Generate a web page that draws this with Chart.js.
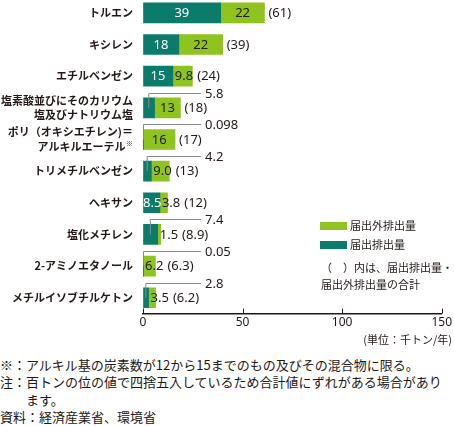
<!DOCTYPE html>
<html lang="ja">
<head>
<meta charset="utf-8">
<script src="https://cdn.jsdelivr.net/npm/chart.js@4/dist/chart.umd.min.js"></script>
<style>
    html, body { margin: 0; padding: 0; background: #fff; }
    body { width: 454px; height: 426px; position: relative; overflow: hidden;
           font-family: "Noto Sans CJK JP", sans-serif; color: #231815; }
    #chartWrap { position: absolute; left: 0; top: -3px; width: 454px; height: 335px; }
    .legend-item { position: absolute; left: 320px; font-size: 11px; line-height: 14px; }
    .legend-item span { display: inline-block; width: 27px; height: 8px; vertical-align: middle;
                        margin-right: 3px; position: relative; top: -1px; }
    .note { position: absolute; left: 321px; font-size: 11px; line-height: 17px; }
    #unit { position: absolute; right: 2px; top: 331px; font-size: 11px; }
    #footnotes { position: absolute; left: 0; top: 356px; font-size: 13px; line-height: 17.3px; }
    #footnotes .indent { padding-left: 26px; }
</style>
</head>
<body>
<div id="chartWrap"><canvas id="prtrChart" width="454" height="335"></canvas></div>
<div id="legend"></div>
<div class="note" style="top:259px">（　）内は、届出排出量・<br>届出外排出量の合計</div>
<div id="unit">(単位：千トン/年)</div>
<div id="footnotes">
    <div>※：アルキル基の炭素数が12から15までのもの及びその混合物に限る。</div>
    <div>注：百トンの位の値で四捨五入しているため合計値にずれがある場合があり</div>
    <div class="indent">ます。</div>
    <div>資料：経済産業省、環境省</div>
</div>
<script>
const categories = [
    ['トルエン'],
    ['キシレン'],
    ['エチルベンゼン'],
    ['塩素酸並びにそのカリウム', '塩及びナトリウム塩'],
    ['ポリ（オキシエチレン)＝', 'アルキルエーテル※'],
    ['トリメチルベンゼン'],
    ['ヘキサン'],
    ['塩化メチレン'],
    ['2-アミノエタノール'],
    ['メチルイソブチルケトン']
];
const reported = [39, 18, 15, 5.8, 0.098, 4.2, 8.5, 7.4, 0.05, 2.8];
const unreported = [22, 22, 9.8, 13, 16, 9.0, 3.8, 1.5, 6.2, 3.5];
const totals = [61, 39, 24, 18, 17, 13, 12, 8.9, 6.3, 6.2];
const seriesNames = ['届出排出量', '届出外排出量'];
const xTicks = [0, 50, 100, 150];

const DARK = '#0b7b6c';
const LIGHT = '#8fc31f';
const TEXT = '#231815';
const BAR_THICKNESS = 20;

function fmt(v) {
    if (v >= 10) return String(Math.round(v));
    if (v >= 1) return v.toFixed(1);
    return String(v);
}

const barLabels = {
    id: 'barLabels',
    afterDatasetsDraw(chart) {
        const { ctx, scales: { x, y } } = chart;
        const half = BAR_THICKNESS / 2;
        ctx.save();
        ctx.font = '13px "Noto Sans", sans-serif';
        ctx.textBaseline = 'middle';
        categories.forEach((cat, i) => {
            const yc = y.getPixelForValue(i);
            const x0 = x.getPixelForValue(0);
            const xd = x.getPixelForValue(reported[i]);
            const xt = x.getPixelForValue(reported[i] + unreported[i]);

            // reported value: inside the dark segment, or on a leader line
            const dText = fmt(reported[i]);
            const dw = ctx.measureText(dText).width;
            if (dw - 3 <= xd - x0) {
                ctx.fillStyle = '#fff';
                ctx.textAlign = 'center';
                ctx.fillText(dText, Math.max((x0 + xd) / 2, x0 + dw / 2), yc + 0.5);
            } else {
                const xl = Math.max((x0 + xd) / 2, x0 + 0.5);
                const yl = Math.round(yc - half - 5) + 0.5;
                ctx.strokeStyle = '#8a8a8a';
                ctx.lineWidth = 1;
                ctx.beginPath();
                ctx.moveTo(xl, yc);
                ctx.lineTo(xl, yl);
                ctx.lineTo(x0 + 58, yl);
                ctx.stroke();
                ctx.fillStyle = TEXT;
                ctx.textAlign = 'left';
                ctx.fillText(dText, x0 + 62, yl + 0.5);
            }

            // unreported value
            const lText = fmt(unreported[i]);
            const lw = ctx.measureText(lText).width;
            const left = Math.max((xd + xt) / 2 - lw / 2, xd + 2);
            ctx.fillStyle = TEXT;
            ctx.textAlign = 'left';
            ctx.fillText(lText, left, yc + 0.5);

            // total
            const tx = Math.max(xt, left + lw) + 4;
            ctx.fillText('(' + fmt(totals[i]) + ')', tx, yc + 0.5);
        });
        ctx.restore();
    },
    afterDraw(chart) {
        const { ctx, scales: { x, y }, chartArea } = chart;
        ctx.save();
        // ticks pointing up from the axis line
        ctx.strokeStyle = TEXT;
        ctx.lineWidth = 1;
        x.ticks.forEach(t => {
            const px = Math.round(x.getPixelForValue(t.value)) + 0.5;
            ctx.beginPath();
            ctx.moveTo(px, chartArea.bottom);
            ctx.lineTo(px, chartArea.bottom - 5);
            ctx.stroke();
        });
        // category labels
        ctx.fillStyle = TEXT;
        ctx.textBaseline = 'middle';
        const right = x.getPixelForValue(0) - 10;
        categories.forEach((lines, i) => {
            const yc = y.getPixelForValue(i);
            lines.forEach((line, j) => {
                const ly = yc + (j - (lines.length - 1) / 2) * 14.5;
                ctx.textAlign = 'right';
                if (line.endsWith('※')) {
                    ctx.font = '7px "Noto Sans CJK JP"';
                    const mw = ctx.measureText('※').width;
                    ctx.fillText('※', right, ly - 3);
                    ctx.font = 'bold 11px "Noto Sans CJK JP"';
                    ctx.fillText(line.slice(0, -1), right - mw - 0.5, ly);
                } else {
                    ctx.font = 'bold 11px "Noto Sans CJK JP"';
                    ctx.fillText(line, right, ly);
                }
            });
        });
        ctx.restore();
    }
};

function buildLegend(chart) {
    const box = document.getElementById('legend');
    const items = chart.data.datasets.slice().reverse();
    box.innerHTML = items.map((ds, k) => `
        <div class="legend-item" style="top:${218 + k * 19}px">
            <span style="background:${ds.backgroundColor}"></span>${ds.label}
        </div>`).join('');
}

function createChart() {
    const ctx = document.getElementById('prtrChart').getContext('2d');
    const chart = new Chart(ctx, {
        type: 'bar',
        data: {
            labels: categories,
            datasets: [{
                label: seriesNames[0],
                data: reported,
                backgroundColor: DARK,
                barThickness: BAR_THICKNESS
            }, {
                label: seriesNames[1],
                data: unreported,
                backgroundColor: LIGHT,
                barThickness: BAR_THICKNESS
            }]
        },
        options: {
            indexAxis: 'y',
            responsive: false,
            animation: false,
            layout: { padding: { left: 143, right: 11, top: 0, bottom: 0 } },
            plugins: {
                legend: { display: false },
                tooltip: { enabled: false }
            },
            scales: {
                x: {
                    stacked: true,
                    min: xTicks[0],
                    max: xTicks[xTicks.length - 1],
                    afterBuildTicks(scale) {
                        scale.ticks = xTicks.map(v => ({ value: v }));
                    },
                    grid: { drawOnChartArea: false, drawTicks: false },
                    border: { display: true, color: TEXT, width: 1.5 },
                    ticks: {
                        padding: 2,
                        color: TEXT,
                        font: { family: '"Noto Sans", sans-serif', size: 12 }
                    }
                },
                y: {
                    stacked: true,
                    display: false
                }
            }
        },
        plugins: [barLabels]
    });
    buildLegend(chart);
}

document.addEventListener('DOMContentLoaded', createChart);
</script>
</body>
</html>
